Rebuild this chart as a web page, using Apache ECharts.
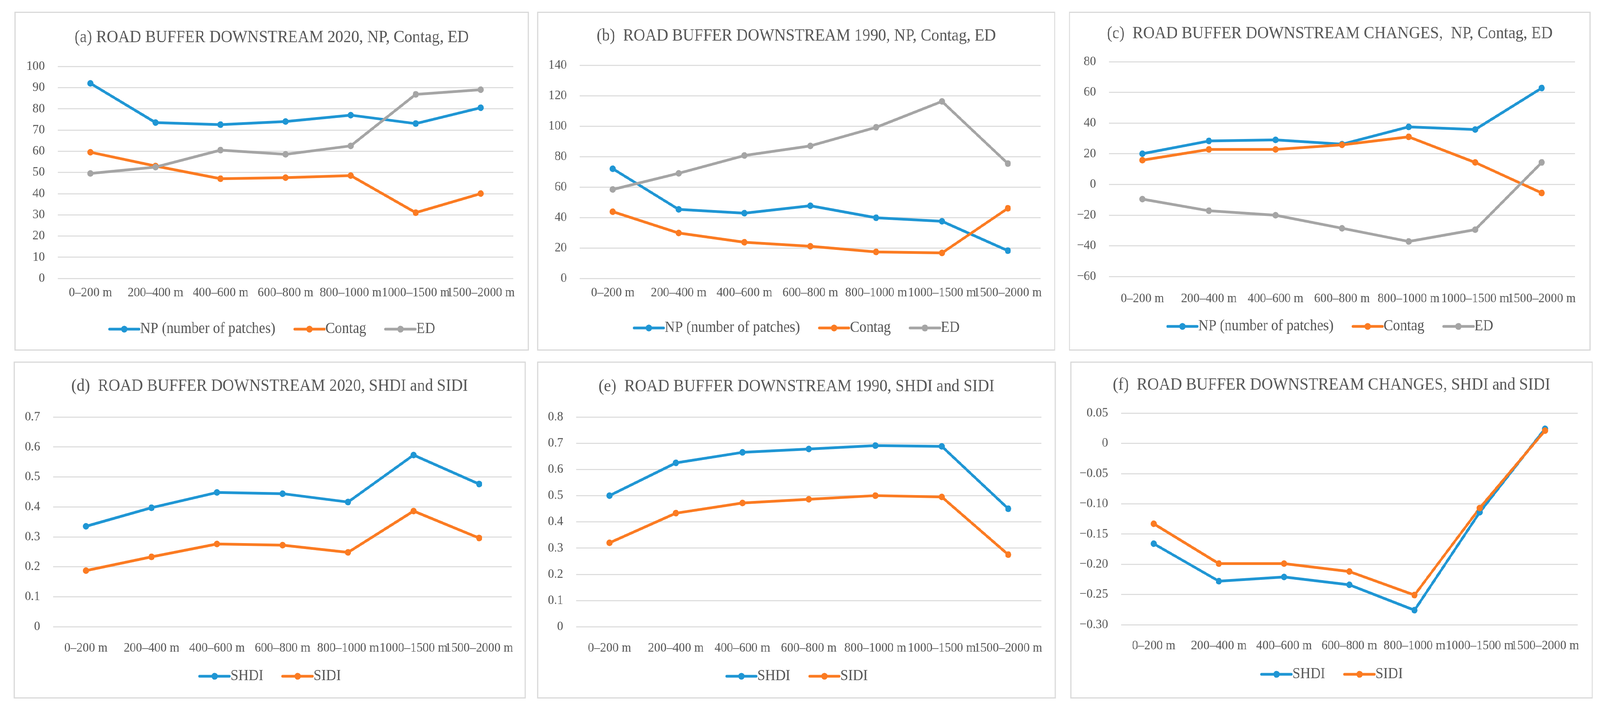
<!DOCTYPE html>
<html>
<head>
<meta charset="utf-8">
<script src="https://cdn.jsdelivr.net/npm/echarts@6/dist/echarts.min.js"></script>
<style>
  html, body { margin: 0; padding: 0; background: #ffffff; overflow: hidden; }
  #wrap { position: absolute; left: 0; top: 0; width: 4423px; height: 1821px; background: #ffffff; transform-origin: 0 0; }
  .panel { position: absolute; box-sizing: border-box; border: 3px solid #d9d9d9; background: #fff; }
  .chart { position: absolute; left: 0; top: 0; width: 100%; height: 100%; }
</style>
</head>
<body>
<div id="wrap"></div>
<script>
// ---------- data ----------
const categories = ['0–200 m', '200–400 m', '400–600 m', '600–800 m', '800–1000 m', '1000–1500 m', '1500–2000 m'];

const a_NP     = [92, 73.5, 72.5, 74, 77, 73, 80.5];
const a_Contag = [59.5, 53, 47, 47.5, 48.5, 31, 40];
const a_ED     = [49.5, 52.5, 60.5, 58.5, 62.5, 86.8, 89];

const b_NP     = [72, 45.3, 42.8, 47.7, 39.8, 37.5, 18.2];
const b_Contag = [43.8, 29.8, 23.7, 21.1, 17.4, 16.7, 46];
const b_ED     = [58.4, 69, 80.7, 87, 99.2, 116.2, 75.4];

const c_NP     = [20, 28.3, 29, 26.2, 37.5, 35.8, 62.8];
const c_Contag = [15.8, 22.8, 22.8, 25.8, 31, 14.3, -5.6];
const c_ED     = [-9.6, -17.2, -20.1, -28.6, -37.2, -29.5, 14.3];

const d_SHDI = [0.335, 0.397, 0.448, 0.444, 0.416, 0.573, 0.476];
const d_SIDI = [0.187, 0.233, 0.276, 0.272, 0.248, 0.386, 0.296];

const e_SHDI = [0.5, 0.625, 0.665, 0.678, 0.691, 0.688, 0.45];
const e_SIDI = [0.32, 0.433, 0.472, 0.486, 0.5, 0.495, 0.275];

const f_SHDI = [-0.166, -0.228, -0.221, -0.234, -0.276, -0.114, 0.024];
const f_SIDI = [-0.133, -0.199, -0.199, -0.212, -0.251, -0.107, 0.021];

const ticksA = ['0', '10', '20', '30', '40', '50', '60', '70', '80', '90', '100'];
const ticksB = ['0', '20', '40', '60', '80', '100', '120', '140'];
const ticksC = ['−60', '−40', '−20', '0', '20', '40', '60', '80'];
const ticksD = ['0', '0.1', '0.2', '0.3', '0.4', '0.5', '0.6', '0.7'];
const ticksE = ['0', '0.1', '0.2', '0.3', '0.4', '0.5', '0.6', '0.7', '0.8'];
const ticksF = ['−0.30', '−0.25', '−0.20', '−0.15', '−0.10', '−0.05', '0', '0.05'];

const titles = [
  '(a) ROAD BUFFER DOWNSTREAM 2020, NP, Contag, ED',
  '(b)  ROAD BUFFER DOWNSTREAM 1990, NP, Contag, ED',
  '(c)  ROAD BUFFER DOWNSTREAM CHANGES,  NP, Contag, ED',
  '(d)  ROAD BUFFER DOWNSTREAM 2020, SHDI and SIDI',
  '(e)  ROAD BUFFER DOWNSTREAM 1990, SHDI and SIDI',
  '(f)  ROAD BUFFER DOWNSTREAM CHANGES, SHDI and SIDI'
];
const names3 = ['NP (number of patches)', 'Contag', 'ED'];
const names2 = ['SHDI', 'SIDI'];

// ---------- styles / layout ----------
const BLUE = '#1f96d4', ORANGE = '#fb7b22', GRAY = '#a5a5a5';
const TEXT = '#595959';
const FONT = '"Liberation Serif", "DejaVu Serif", serif';

const panels = [
  { box: [40, 30, 1422, 868],  grid: [117, 137, 1259, 543], titleY: 63, legendY: 810, xMargin: 20,
    min: 0, max: 100, interval: 10, ticks: ticksA, names: names3, data: [a_NP, a_Contag, a_ED], title: titles[0] },
  { box: [1485, 30, 1432, 868], grid: [115, 134, 1274, 546], titleY: 59, legendY: 807, xMargin: 20,
    min: 0, max: 140, interval: 20, ticks: ticksB, names: names3, data: [b_NP, b_Contag, b_ED], title: titles[1] },
  { box: [2955, 30, 1442, 868], grid: [108, 125, 1288, 550], titleY: 53, legendY: 803, xMargin: 40,
    min: -60, max: 80, interval: 20, ticks: ticksC, names: names3, data: [c_NP, c_Contag, c_ED], title: titles[2] },
  { box: [38, 926, 1415, 863],  grid: [106, 139, 1268, 537], titleY: 60, legendY: 803, xMargin: 38,
    min: 0, max: 0.7, interval: 0.1, ticks: ticksD, names: names2, data: [d_SHDI, d_SIDI], title: titles[3] },
  { box: [1485, 926, 1434, 863], grid: [105, 139, 1286, 537], titleY: 61, legendY: 803, xMargin: 38,
    min: 0, max: 0.8, interval: 0.1, ticks: ticksE, names: names2, data: [e_SHDI, e_SIDI], title: titles[4] },
  { box: [2959, 926, 1444, 863], grid: [137, 129, 1262, 542], titleY: 57, legendY: 798, xMargin: 37,
    min: -0.3, max: 0.05, interval: 0.05, ticks: ticksF, names: names2, data: [f_SHDI, f_SIDI], title: titles[5] }
];

const colors = [BLUE, ORANGE, GRAY];
const TITLE_FS = 44, AXIS_FS = 34, LEGEND_FS = 39;

// fit the 4423x1821 design into whatever viewport the browser really has
const wrap = document.getElementById('wrap');
const sx = Math.min(window.innerWidth / 4423, 1);
const sy = Math.min(window.innerHeight / 1821, 1);
if (sx < 0.999 || sy < 0.999) wrap.style.transform = 'scale(' + sx + ',' + sy + ')';

panels.forEach(function (p) {
  const div = document.createElement('div');
  div.className = 'panel';
  div.style.left = p.box[0] + 'px';
  div.style.top = p.box[1] + 'px';
  div.style.width = p.box[2] + 'px';
  div.style.height = p.box[3] + 'px';
  const inner = document.createElement('div');
  inner.className = 'chart';
  div.appendChild(inner);
  wrap.appendChild(div);

  const chart = echarts.init(inner, null, { renderer: 'canvas' });
  const series = p.data.map(function (arr, i) {
    return {
      name: p.names[i],
      type: 'line',
      data: arr,
      symbol: 'circle',
      symbolSize: 17,
      lineStyle: { width: 7, color: colors[i], join: 'round', cap: 'round' },
      itemStyle: { color: colors[i] },
      emphasis: { disabled: true },
      animation: false
    };
  });
  chart.setOption({
    animation: false,
    textStyle: { fontFamily: FONT },
    title: {
      text: p.title,
      left: 'center',
      top: p.titleY - TITLE_FS / 2,
      padding: 0,
      textStyle: { fontFamily: FONT, fontSize: TITLE_FS, fontWeight: 'normal', color: TEXT, lineHeight: TITLE_FS }
    },
    legend: {
      data: p.names,
      left: 'center',
      top: p.legendY - LEGEND_FS / 2,
      padding: 0,
      itemWidth: 82,
      itemHeight: 22,
      itemGap: 50,
      selectedMode: false,
      lineStyle: { width: 7 },
      textStyle: { fontFamily: FONT, fontSize: LEGEND_FS, color: TEXT, lineHeight: LEGEND_FS, padding: [0, 0, 0, -2] }
    },
    grid: {
      left: p.grid[0], top: p.grid[1], width: p.grid[2], height: p.grid[3],
      containLabel: false, outerBoundsMode: 'none'
    },
    xAxis: {
      type: 'category',
      data: categories,
      boundaryGap: true,
      axisLine: { show: false },
      axisTick: { show: false },
      splitLine: { show: false },
      axisLabel: {
        interval: 0, hideOverlap: false, margin: p.xMargin,
        fontFamily: FONT, fontSize: AXIS_FS, color: TEXT
      }
    },
    yAxis: {
      type: 'value',
      min: p.min, max: p.max, interval: p.interval,
      axisLine: { show: false },
      axisTick: { show: false },
      splitLine: { show: true, lineStyle: { color: '#d9d9d9', width: 2.5 } },
      axisLabel: {
        margin: 36,
        fontFamily: FONT, fontSize: AXIS_FS, color: TEXT,
        formatter: function (v) {
          const idx = Math.round((v - p.min) / p.interval);
          return p.ticks[idx] !== undefined ? p.ticks[idx] : '';
        }
      }
    },
    series: series
  });
});
</script>
</body>
</html>
